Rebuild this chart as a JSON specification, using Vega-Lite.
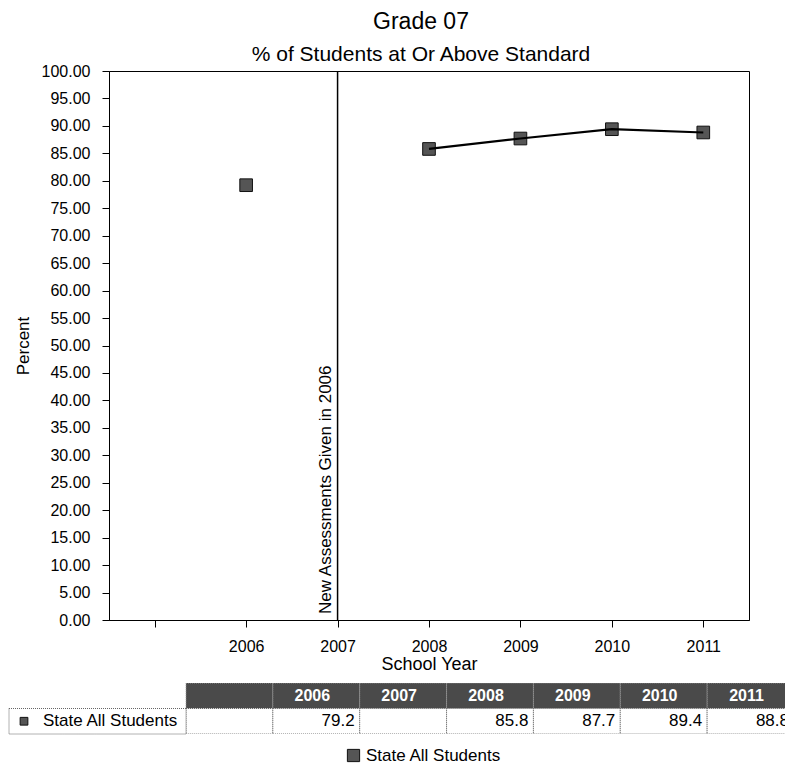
{
  "$schema": "https://vega.github.io/schema/vega-lite/v6.json",
  "padding": {"left": 8, "top": 10, "right": 0, "bottom": 0},
  "background": "white",
  "config": {
    "font": "Liberation Sans",
    "view": {"stroke": "black", "strokeWidth": 1},
    "axis": {"labelColor": "black", "titleColor": "black", "tickColor": "black", "domainColor": "black", "grid": false, "titleFontWeight": "normal", "labelFontSize": 16},
    "title": {"color": "black", "subtitleColor": "black"}
  },
  "datasets": {
    "scores": [
      {"year": " ", "value": null, "series": "State All Students"},
      {"year": "2006", "value": 79.2, "series": "State All Students"},
      {"year": "2007", "value": null, "series": "State All Students"},
      {"year": "2008", "value": 85.8, "series": "State All Students"},
      {"year": "2009", "value": 87.7, "series": "State All Students"},
      {"year": "2010", "value": 89.4, "series": "State All Students"},
      {"year": "2011", "value": 88.8, "series": "State All Students"}
    ],
    "series": [{"series": "State All Students"}],
    "note": [{"year": "2007", "value": 0, "note": "New Assessments Given in 2006"}]
  },
  "spacing": 9,
  "vconcat": [
    {
      "width": 640,
      "height": 549,
      "title": {
        "text": "Grade 07",
        "subtitle": "% of Students at Or Above Standard",
        "fontSize": 23,
        "subtitleFontSize": 21,
        "fontWeight": "normal",
        "anchor": "middle",
        "frame": "group",
        "dx": -8,
        "offset": -2,
        "subtitlePadding": 10
      },
      "layer": [
        {
          "data": {"name": "scores"},
          "mark": {"type": "point", "shape": "square", "filled": true, "size": 160, "stroke": "#111111", "strokeWidth": 1, "opacity": 1},
          "encoding": {
            "x": {
              "field": "year",
              "type": "ordinal",
              "scale": {"type": "point", "domain": [" ", "2006", "2007", "2008", "2009", "2010", "2011"], "padding": 0.5},
              "axis": {"title": "School Year", "labelAngle": 0, "labelAlign": "center", "tickSize": 7, "labelPadding": 11, "titleFontSize": 18, "titlePadding": 1}
            },
            "y": {
              "field": "value",
              "type": "quantitative",
              "scale": {"domain": [0, 100], "nice": false, "zero": true},
              "axis": {"values": [0, 5, 10, 15, 20, 25, 30, 35, 40, 45, 50, 55, 60, 65, 70, 75, 80, 85, 90, 95, 100], "tickCount": 21, "format": ".2f", "labelOverlap": false, "title": "Percent", "titleFontSize": 17, "tickSize": 7, "labelPadding": 12, "titlePadding": 9}
            },
            "color": {
              "field": "series",
              "type": "nominal",
              "scale": {"range": ["#555555"]},
              "legend": {"orient": "none", "legendX": 236, "legendY": 676, "direction": "horizontal", "title": null, "labelFontSize": 17, "labelColor": "black", "symbolType": "square", "symbolSize": 150, "symbolStrokeColor": "#111111", "symbolStrokeWidth": 1}
            }
          }
        },
        {
          "data": {"name": "scores"},
          "transform": [{"filter": {"field": "year", "oneOf": ["2008", "2009", "2010", "2011"]}}],
          "mark": {"type": "line", "color": "black", "strokeWidth": 2.2},
          "encoding": {
            "x": {
              "field": "year",
              "type": "ordinal",
              "axis": {"title": "School Year", "labelAngle": 0, "labelAlign": "center", "tickSize": 7, "labelPadding": 11, "titleFontSize": 18, "titlePadding": 1}
            },
            "y": {
              "field": "value",
              "type": "quantitative",
              "axis": {"values": [0, 5, 10, 15, 20, 25, 30, 35, 40, 45, 50, 55, 60, 65, 70, 75, 80, 85, 90, 95, 100], "tickCount": 21, "format": ".2f", "labelOverlap": false, "title": "Percent", "titleFontSize": 17, "tickSize": 7, "labelPadding": 12, "titlePadding": 9}
            }
          }
        },
        {
          "data": {"name": "note"},
          "mark": {"type": "rule", "color": "black", "strokeWidth": 1.5},
          "encoding": {
            "x": {
              "field": "year",
              "type": "ordinal",
              "axis": {"title": "School Year", "labelAngle": 0, "labelAlign": "center", "tickSize": 7, "labelPadding": 11, "titleFontSize": 18, "titlePadding": 1}
            }
          }
        },
        {
          "data": {"name": "note"},
          "mark": {"type": "text", "angle": 270, "align": "left", "baseline": "bottom", "dx": 6, "dy": -3, "fontSize": 17, "fontWeight": "normal", "color": "black"},
          "encoding": {
            "x": {
              "field": "year",
              "type": "ordinal",
              "axis": {"title": "School Year", "labelAngle": 0, "labelAlign": "center", "tickSize": 7, "labelPadding": 11, "titleFontSize": 18, "titlePadding": 1}
            },
            "y": {
              "field": "value",
              "type": "quantitative",
              "axis": {"values": [0, 5, 10, 15, 20, 25, 30, 35, 40, 45, 50, 55, 60, 65, 70, 75, 80, 85, 90, 95, 100], "tickCount": 21, "format": ".2f", "labelOverlap": false, "title": "Percent", "titleFontSize": 17, "tickSize": 7, "labelPadding": 12, "titlePadding": 9}
            },
            "text": {"field": "note"}
          }
        }
      ]
    },
    {
      "width": 677,
      "height": 51,
      "view": {"stroke": null},
      "layer": [
        {
          "data": {"name": "scores"},
          "layer": [
            {
              "mark": {"type": "rect", "fill": "#4a4a4a", "stroke": "#9a9a9a", "strokeWidth": 1, "strokeDash": [1, 1], "clip": true},
              "encoding": {
                "x": {"field": "year", "type": "ordinal", "scale": {"type": "band", "domain": [" ", "2006", "2007", "2008", "2009", "2010", "2011"], "range": [77, 685], "paddingInner": 0, "paddingOuter": 0}, "axis": null},
                "y": {"datum": "h", "type": "nominal", "scale": {"domain": ["h", "v"], "paddingInner": 0, "paddingOuter": 0}, "axis": null}
              }
            },
            {
              "mark": {"type": "text", "color": "white", "fontWeight": "bold", "fontSize": 16, "clip": true, "dx": -4},
              "encoding": {
                "x": {"field": "year", "type": "ordinal", "axis": null},
                "y": {"datum": "h", "type": "nominal", "axis": null},
                "text": {"field": "year"}
              }
            },
            {
              "mark": {"type": "rect", "fill": "white", "stroke": "#666666", "strokeWidth": 1, "strokeDash": [1, 1], "clip": true},
              "encoding": {
                "x": {"field": "year", "type": "ordinal", "axis": null},
                "y": {"datum": "v", "type": "nominal", "axis": null}
              }
            },
            {
              "transform": [{"filter": {"field": "value", "valid": true}}],
              "mark": {"type": "text", "align": "right", "dx": -5, "fontSize": 17, "color": "black", "clip": true},
              "encoding": {
                "x": {"field": "year", "type": "ordinal", "bandPosition": 1, "axis": null},
                "y": {"datum": "v", "type": "nominal", "axis": null},
                "text": {"field": "value", "type": "quantitative", "format": ".1f"}
              }
            }
          ]
        },
        {
          "data": {"name": "series"},
          "layer": [
            {
              "mark": {"type": "rect", "fill": "white", "stroke": "#666666", "strokeWidth": 1, "strokeDash": [1, 1]},
              "encoding": {
                "x": {"field": "series", "type": "nominal", "scale": {"type": "band", "range": [-100, 77], "paddingInner": 0, "paddingOuter": 0}, "axis": null},
                "y": {"datum": "v", "type": "nominal", "axis": null}
              }
            },
            {
              "mark": {"type": "point", "shape": "square", "filled": true, "size": 60, "color": "#555555", "stroke": "#111111", "strokeWidth": 1, "opacity": 1, "xOffset": 15},
              "encoding": {
                "x": {"field": "series", "type": "nominal", "bandPosition": 0, "axis": null},
                "y": {"datum": "v", "type": "nominal", "axis": null}
              }
            },
            {
              "mark": {"type": "text", "align": "left", "dx": 34, "fontSize": 17, "color": "black"},
              "encoding": {
                "x": {"field": "series", "type": "nominal", "bandPosition": 0, "axis": null},
                "y": {"datum": "v", "type": "nominal", "axis": null},
                "text": {"field": "series"}
              }
            }
          ]
        }
      ],
      "resolve": {"scale": {"x": "independent"}}
    }
  ]
}
